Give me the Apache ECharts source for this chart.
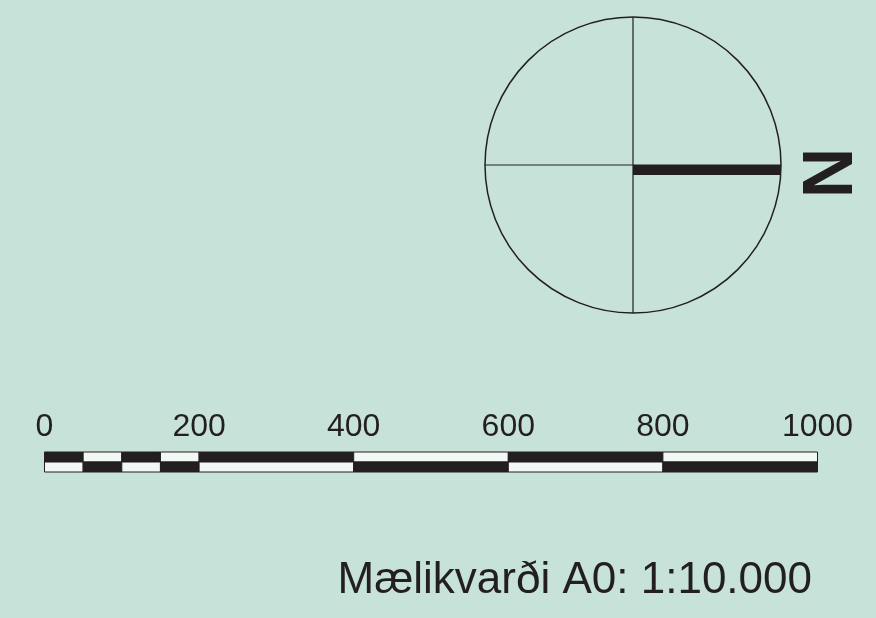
<!DOCTYPE html>
<html>
<head>
<meta charset="utf-8">
<script src="https://cdn.jsdelivr.net/npm/echarts@6/dist/echarts.min.js"></script>
<style>
html,body{margin:0;padding:0;background:#c7e3d9;}
#c{width:876px;height:618px;}
</style>
</head>
<body>
<div id="c"></div>
<script>
// Scale bar ticks (metres)
const scaleTicks = [0, 200, 400, 600, 800, 1000];
// Scale bar segments
const segStarts = [0, 50, 100, 150, 200, 400, 600, 800];
const segEnds   = [50, 100, 150, 200, 400, 600, 800, 1000];
const topRowDark = [1, 0, 1, 0, 1, 0, 1, 0];
// North arrow: radius from 0 to 1 at angle 0 (pointing right)
const northBar = [0, 1];
const northAngle = 0;
const compassLabel = 'N';
const scaleText = 'Mælikvarði A0: 1:10.000';

const ink = '#231f20';
const paper = '#f4f8f4';

const segData = [];
segStarts.forEach((s, i) => {
  segData.push([s, segEnds[i], 0, topRowDark[i]]);
  segData.push([s, segEnds[i], 1, 1 - topRowDark[i]]);
});

const chart = echarts.init(document.getElementById('c'));
chart.setOption({
  backgroundColor: '#c7e3d9',
  animation: false,
  grid: { left: 44.5, right: 58.5, top: 452, height: 20 },
  xAxis: {
    type: 'value', min: scaleTicks[0], max: scaleTicks[scaleTicks.length - 1],
    interval: scaleTicks[1] - scaleTicks[0], position: 'top',
    axisLine: { show: false }, axisTick: { show: false }, splitLine: { show: false },
    axisLabel: { margin: 9, fontSize: 32, color: ink, fontFamily: 'Liberation Sans',
      formatter: function (v) { return String(v); } }
  },
  yAxis: { type: 'value', min: 0, max: 2, inverse: true, show: false },
  polar: { center: [633, 165], radius: 148 },
  angleAxis: {
    type: 'value', min: 0, max: 360, interval: 90, startAngle: 0,
    axisLine: { lineStyle: { color: ink, width: 1.5 } },
    axisTick: { show: false }, axisLabel: { show: false },
    splitLine: { show: true, lineStyle: { color: ink, width: 1.2 } }
  },
  radiusAxis: {
    type: 'value', min: 0, max: 1,
    axisLine: { show: false }, axisTick: { show: false }, axisLabel: { show: false },
    splitLine: { show: false }
  },
  series: [
    {
      type: 'custom', coordinateSystem: 'cartesian2d',
      data: segData,
      renderItem: function (params, api) {
        const p0 = api.coord([api.value(0), api.value(2)]);
        const p1 = api.coord([api.value(1), api.value(2) + 1]);
        return {
          type: 'rect',
          shape: { x: p0[0], y: p0[1], width: p1[0] - p0[0], height: p1[1] - p0[1] },
          style: { fill: api.value(3) ? ink : paper, stroke: ink, lineWidth: 1 }
        };
      }
    },
    {
      type: 'custom', coordinateSystem: 'polar',
      data: [[northBar[0], northBar[1], northAngle]],
      renderItem: function (params, api) {
        const c = api.coord([api.value(0), api.value(2)]);
        const e = api.coord([api.value(1), api.value(2)]);
        return {
          type: 'rect',
          shape: { x: c[0], y: c[1], width: e[0] - c[0], height: 10 },
          style: { fill: ink }
        };
      }
    }
  ],
  graphic: [
    {
      type: 'text', x: 822, y: 173, rotation: -Math.PI / 2,
      style: {
        text: compassLabel, fill: ink, align: 'center', verticalAlign: 'middle',
        font: 'bold 70px "Liberation Sans"'
      }
    },
    {
      type: 'text', x: 812, y: 581,
      style: {
        text: scaleText, fill: ink, align: 'right', verticalAlign: 'middle',
        font: '44px "Liberation Sans"'
      }
    }
  ]
});
</script>
</body>
</html>
